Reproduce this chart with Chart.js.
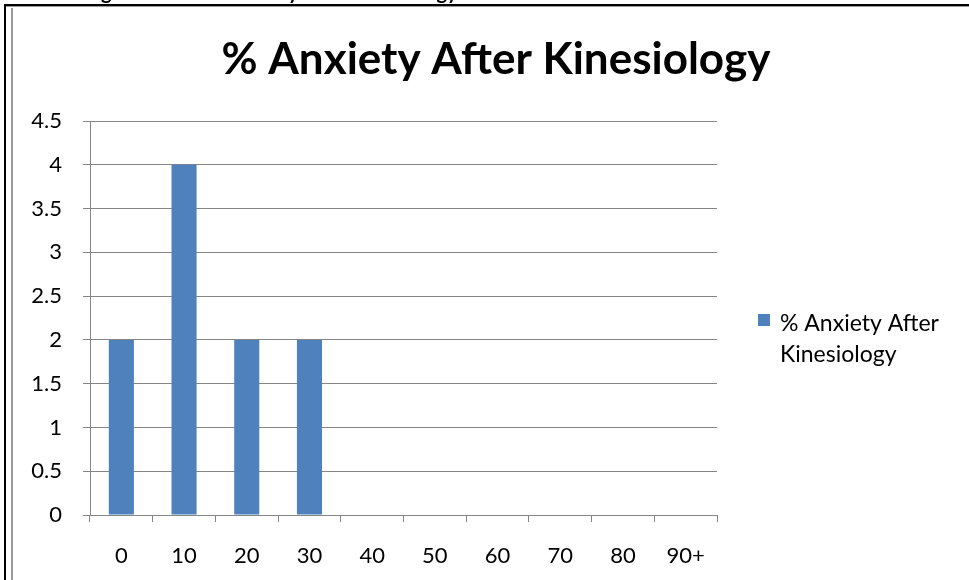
<!DOCTYPE html>
<html>
<head>
<meta charset="utf-8">
<style>
  html, body { margin: 0; padding: 0; background: #fff; }
  #wrap { position: relative; width: 969px; height: 580px; }
</style>
<script src="https://cdn.jsdelivr.net/npm/chart.js@4.4.1/dist/chart.umd.min.js"></script>
</head>
<body>
<div id="wrap"><canvas id="chart" width="969" height="580"></canvas></div>
<script>
// values
const categories = ['0', '10', '20', '30', '40', '50', '60', '70', '80', '90+'];
const anxietyAfter = [2, 4, 2, 2, 0, 0, 0, 0, 0, 0];
const yTicks = [0, 0.5, 1, 1.5, 2, 2.5, 3, 3.5, 4, 4.5];
const seriesLabel = '% Anxiety After Kinesiology';
const titleText = '% Anxiety After Kinesiology';
const captionText = 'Histogram of the % Anxiety After Kinesiology';

const FONT = 'Lato, "Open Sans", sans-serif';
const barColor = '#4f81bd';

// page frame, cut caption, title and the wrapped legend
const decor = {
    id: 'decor',
    beforeDraw(chart) {
        const ctx = chart.ctx;
        ctx.save();
        ctx.fillStyle = '#fff';
        ctx.fillRect(0, 0, chart.width, chart.height);
        // caption above the frame, only its descenders show
        ctx.fillStyle = '#000';
        ctx.font = 'bold 20px ' + FONT;
        ctx.textBaseline = 'alphabetic';
        ctx.fillText(captionText, 53, -1);
        // frame
        ctx.fillStyle = '#000';
        ctx.fillRect(4, 4, 965, 2);
        ctx.fillRect(4, 4, 2, 576);
        ctx.fillStyle = '#999';
        ctx.fillRect(6, 6, 963, 1);
        ctx.fillRect(11, 8, 2, 572);
        ctx.restore();
    },
    afterDraw(chart) {
        const ctx = chart.ctx;
        const a = chart.chartArea;
        ctx.save();
        ctx.fillStyle = '#000';
        ctx.font = 'bold 44px ' + FONT;
        ctx.textAlign = 'center';
        ctx.textBaseline = 'alphabetic';
        ctx.fillText(titleText, 496, 74);
        // legend
        const words = seriesLabel.split(' ');
        const lines = [words.slice(0, 3).join(' '), words.slice(3).join(' ')];
        ctx.fillStyle = barColor;
        ctx.fillRect(a.right + 41, 314, 12, 12);
        ctx.fillStyle = '#000';
        ctx.font = '23px ' + FONT;
        ctx.textAlign = 'left';
        ctx.fillText(lines[0], a.right + 63, 331);
        ctx.fillText(lines[1], a.right + 63, 362);
        ctx.restore();
    }
};

new Chart(document.getElementById('chart'), {
    type: 'bar',
    data: {
        labels: categories,
        datasets: [{
            label: seriesLabel,
            data: anxietyAfter,
            backgroundColor: barColor,
            borderWidth: 0,
            categoryPercentage: 1,
            barPercentage: 0.4
        }]
    },
    options: {
        responsive: false,
        animation: false,
        layout: { padding: { left: 0, top: 121, right: 252, bottom: 0 } },
        plugins: {
            legend: { display: false },
            title: { display: false },
            tooltip: { enabled: false }
        },
        scales: {
            x: {
                afterFit(axis) { axis.height = 65; },
                grid: {
                    display: true,
                    drawOnChartArea: false,
                    color: '#868686',
                    tickLength: 7,
                    offset: true
                },
                border: { color: '#868686' },
                ticks: {
                    color: '#000',
                    font: { family: FONT, size: 22 },
                    padding: 21
                }
            },
            y: {
                min: 0,
                max: 4.5,
                afterFit(axis) { axis.width = 90; },
                afterBuildTicks(axis) {
                    axis.ticks = yTicks.map(v => ({ value: v }));
                },
                grid: {
                    color: '#868686',
                    tickLength: 7
                },
                border: { color: '#868686' },
                ticks: {
                    color: '#000',
                    font: { family: FONT, size: 22 },
                    padding: 21,
                    callback: v => String(v)
                }
            }
        }
    },
    plugins: [decor]
});
</script>
</body>
</html>
